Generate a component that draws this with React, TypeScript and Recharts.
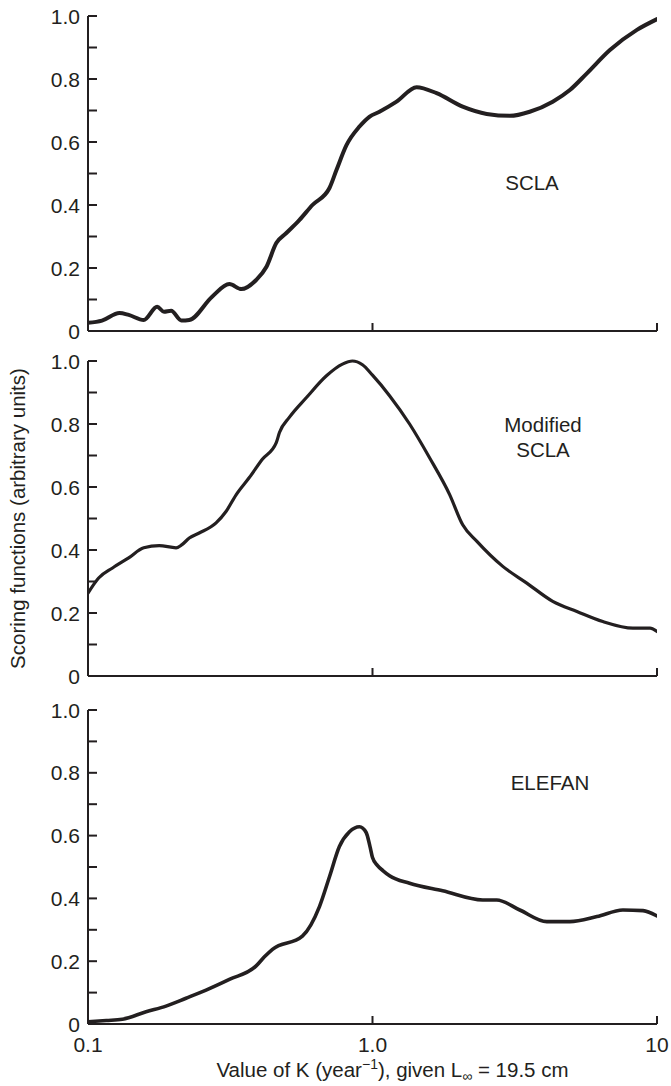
import { Line, LineChart, XAxis, YAxis } from "recharts"

const INK = "#231f20"
const FONT = "'Liberation Sans', Arial, Helvetica, sans-serif"

// value of K (year^-1) and scores
const sclaK = [0.1, 0.112, 0.129, 0.139, 0.157, 0.175, 0.185, 0.196, 0.213, 0.227, 0.273, 0.314, 0.346, 0.39, 0.424, 0.459, 0.498, 0.553, 0.615, 0.706, 0.747, 0.81, 0.9, 0.975, 1.058, 1.215, 1.429, 1.68, 2.075, 2.52, 3.04, 3.57, 4.3, 4.94, 5.67, 6.83, 8.5, 10]
const sclaScore = [0.026, 0.033, 0.057, 0.051, 0.035, 0.077, 0.061, 0.064, 0.033, 0.035, 0.109, 0.149, 0.133, 0.162, 0.204, 0.279, 0.311, 0.352, 0.4, 0.454, 0.511, 0.59, 0.649, 0.68, 0.696, 0.728, 0.774, 0.755, 0.712, 0.689, 0.683, 0.696, 0.728, 0.765, 0.818, 0.892, 0.956, 0.99]

const modK = [0.1, 0.109, 0.122, 0.139, 0.157, 0.178, 0.204, 0.214, 0.227, 0.246, 0.282, 0.306, 0.332, 0.369, 0.41, 0.459, 0.471, 0.51, 0.586, 0.689, 0.784, 0.85, 0.922, 1.0, 1.148, 1.35, 1.587, 1.867, 2.075, 2.324, 2.87, 3.486, 4.3, 5.23, 6.45, 8.23, 9.45, 10]
const modScore = [0.263, 0.311, 0.343, 0.375, 0.407, 0.414, 0.407, 0.417, 0.438, 0.454, 0.486, 0.523, 0.576, 0.63, 0.688, 0.741, 0.773, 0.821, 0.884, 0.953, 0.99, 1.0, 0.988, 0.955, 0.89, 0.8, 0.693, 0.576, 0.48, 0.428, 0.348, 0.295, 0.237, 0.205, 0.173, 0.152, 0.152, 0.141]

const elefanK = [0.1, 0.116, 0.132, 0.16, 0.188, 0.221, 0.26, 0.314, 0.39, 0.417, 0.445, 0.567, 0.651, 0.706, 0.765, 0.83, 0.9, 0.95, 0.98, 1.0, 1.04, 1.09, 1.148, 1.35, 1.764, 2.44, 2.733, 3.293, 4.1, 4.94, 6.15, 7.59, 8.93, 10]
const elefanScore = [0.007, 0.011, 0.015, 0.039, 0.057, 0.082, 0.108, 0.142, 0.185, 0.214, 0.238, 0.28, 0.374, 0.469, 0.565, 0.612, 0.628, 0.61, 0.565, 0.53, 0.505, 0.488, 0.472, 0.448, 0.424, 0.395, 0.395, 0.363, 0.326, 0.326, 0.342, 0.363, 0.361, 0.344]

const xTicks = [0.1, 1, 10]
const xTickLabels = ["0.1", "1.0", "10"]
const yTicks = [0, 0.1, 0.2, 0.3, 0.4, 0.5, 0.6, 0.7, 0.8, 0.9, 1]
const yTickLabels = ["0", "", "0.2", "", "0.4", "", "0.6", "", "0.8", "", "1.0"]

const toRows = (ks: number[], vs: number[]) => ks.map((k, i) => ({ k, v: vs[i] }))

const YTick = (props: any) => {
  const { x, y, index } = props
  return (
    <g>
      <line x1={x} y1={y} x2={x + 9} y2={y} stroke={INK} strokeWidth={2} />
      <text x={x - 8} y={y} dy={7.5} textAnchor="end" fontSize={21} fontFamily={FONT} fill={INK}>
        {yTickLabels[index]}
      </text>
    </g>
  )
}

const XTick = (props: any) => {
  const { x, y, index, showLabel } = props
  return (
    <g>
      {index > 0 && <line x1={x} y1={y} x2={x} y2={y - 8} stroke={INK} strokeWidth={2} />}
      {showLabel && (
        <text x={x} y={y + 28} textAnchor="middle" fontSize={21} fontFamily={FONT} fill={INK}>
          {xTickLabels[index]}
        </text>
      )}
    </g>
  )
}

const XTitle = (props: any) => {
  const vb = props.viewBox
  return (
    <text x={vb.x + vb.width / 2 + 20} y={1077 - 694} textAnchor="middle" fontSize={20.5} fontFamily={FONT} fill={INK}>
      <tspan>Value of K (year</tspan>
      <tspan fontSize={14} dy={-8}>−1</tspan>
      <tspan dy={8}>), given L</tspan>
      <tspan fontSize={14} dy={4}>∞</tspan>
      <tspan dy={-4}> = 19.5 cm</tspan>
    </text>
  )
}

const YTitle = (props: any) => {
  const vb = props.viewBox
  const cy = vb.y + vb.height / 2
  return (
    <text transform={`translate(25, ${cy}) rotate(-90)`} textAnchor="middle" fontSize={20.5} fontFamily={FONT} fill={INK}>
      Scoring functions (arbitrary units)
    </text>
  )
}

type PanelProps = {
  top: number
  height: number
  axisHeight: number
  rows: { k: number; v: number }[]
  strokeWidth: number
  bottom?: boolean
  yTitle?: boolean
}

const Panel = ({ top, height, axisHeight, rows, strokeWidth, bottom, yTitle }: PanelProps) => (
  <div style={{ position: "absolute", left: 0, top }}>
    <LineChart width={671} height={height} data={rows} margin={{ top: 16, right: 14, bottom: 0, left: 0 }}>
      <XAxis
        dataKey="k"
        type="number"
        scale="log"
        domain={[0.1, 10]}
        ticks={xTicks}
        interval={0}
        allowDataOverflow
        height={axisHeight}
        tickSize={0}
        tickMargin={0}
        tickLine={false}
        axisLine={{ stroke: INK, strokeWidth: 2 }}
        tick={(p: any) => <XTick {...p} showLabel={bottom} />}
        label={bottom ? <XTitle /> : undefined}
      />
      <YAxis
        type="number"
        domain={[0, 1]}
        ticks={yTicks}
        interval={0}
        width={88}
        tickSize={0}
        tickMargin={0}
        tickLine={false}
        axisLine={{ stroke: INK, strokeWidth: 2 }}
        tick={<YTick />}
        label={yTitle ? <YTitle /> : undefined}
      />
      <Line
        dataKey="v"
        type="monotone"
        stroke={INK}
        strokeWidth={strokeWidth}
        strokeLinejoin="round"
        strokeLinecap="round"
        dot={false}
        activeDot={false}
        isAnimationActive={false}
      />
    </LineChart>
  </div>
)

const labelStyle = {
  position: "absolute" as const,
  fontFamily: FONT,
  fontSize: 20.5,
  color: INK,
  textAlign: "center" as const,
  lineHeight: "25px",
}

export default function App() {
  return (
    <div style={{ position: "absolute", left: 0, top: 0, width: 671, height: 1086, background: "#fff" }}>
      <Panel top={0} height={352} axisHeight={21} rows={toRows(sclaK, sclaScore)} strokeWidth={4} />
      <Panel top={345} height={352} axisHeight={21} rows={toRows(modK, modScore)} strokeWidth={3.2} yTitle />
      <Panel top={694} height={392} axisHeight={62} rows={toRows(elefanK, elefanScore)} strokeWidth={3.6} bottom />
      <div style={{ ...labelStyle, left: 482, top: 170, width: 100 }}>SCLA</div>
      <div style={{ ...labelStyle, left: 493, top: 412, width: 100 }}>
        Modified
        <br />
        SCLA
      </div>
      <div style={{ ...labelStyle, left: 500, top: 770, width: 100 }}>ELEFAN</div>
    </div>
  )
}
